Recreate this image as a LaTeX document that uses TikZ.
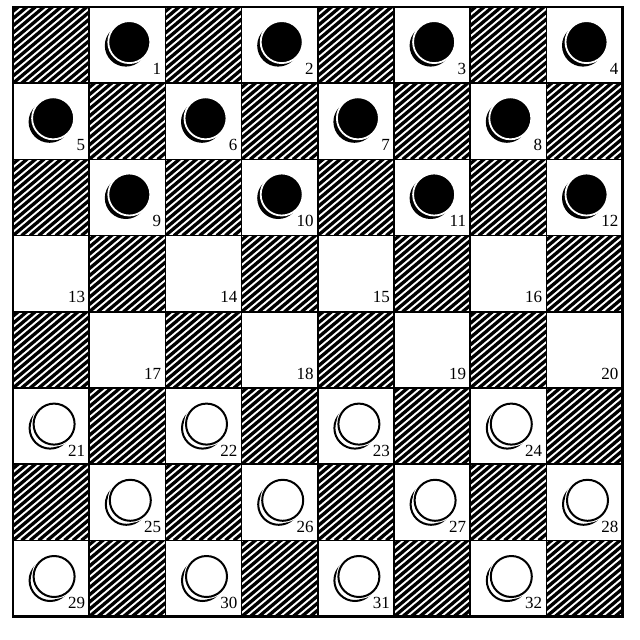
\documentclass[tikz,border=0pt]{standalone}
\usepackage{fontspec}
\setmainfont{Liberation Serif}
\begin{document}
\begin{tikzpicture}[x=1pt,y=-1pt,
  cell/.style={draw=black, line width=1.6pt, minimum size=76.2pt, inner sep=0pt, outer sep=0pt, fill=white},
  lightcell/.style={cell},
  darkcell/.style={cell, path picture={
     \foreach \t in {-102.72,-94.16,...,80}
       \draw[line width=3.3pt] ([xshift=\t pt]path picture bounding box.south west) -- ++(40:125pt);}},
  num/.style={font=\fontsize{17}{17}\selectfont, inner sep=0pt, anchor=base east},
  blackshadow/.style={fill=black},
  blackdisc/.style={draw=white, line width=1.8pt, fill=black},
  whiteshadow/.style={draw=black, line width=2pt, fill=white},
  whitehalo/.style={draw=white, line width=4pt},
  whitedisc/.style={draw=black, line width=2pt, fill=white},
  border/.style={draw=black, line width=2.4pt}
]
\fill[white] (0,0) rectangle (640,640);
\useasboundingbox (0,0) rectangle (640,640);
\foreach \r in {0,...,7}{
 \foreach \c in {0,...,7}{
  \pgfmathtruncatemacro{\odd}{mod(\r+\c,2)}
  \pgfmathsetmacro{\cx}{13+(\c+0.5)*76.2}
  \pgfmathsetmacro{\cy}{7+(\r+0.5)*76.2}
  \ifnum\odd=0
    \node[darkcell] (sq-\r-\c) at (\cx,\cy) {};
  \else
    \pgfmathtruncatemacro{\n}{\r*4+floor(\c/2)+1}
    \node[lightcell] (sq-\r-\c) at (\cx,\cy) {};
    \ifnum\r<3
      \fill[blackshadow] (\cx-1.5,\cy+0.5) circle[radius=21pt];
      \draw[blackdisc] (\cx+2,\cy-3) circle[radius=21pt];
    \fi
    \ifnum\r>4
      \draw[whiteshadow] (\cx-1,\cy+2) circle[radius=20.5pt];
      \draw[whitehalo] (\cx+3,\cy-2) circle[radius=20.5pt];
      \draw[whitedisc] (\cx+3,\cy-2) circle[radius=20.5pt];
    \fi
    \ifnum\r>4
      \node[num] (n\n) at ([shift={(-4pt,8pt)}]sq-\r-\c.south east) {\n};
    \else
      \node[num] (n\n) at ([shift={(-4pt,9pt)}]sq-\r-\c.south east) {\n};
    \fi
  \fi
 }}
\draw[border] (sq-0-0.north west) rectangle (sq-7-7.south east);
\end{tikzpicture}
\end{document}
